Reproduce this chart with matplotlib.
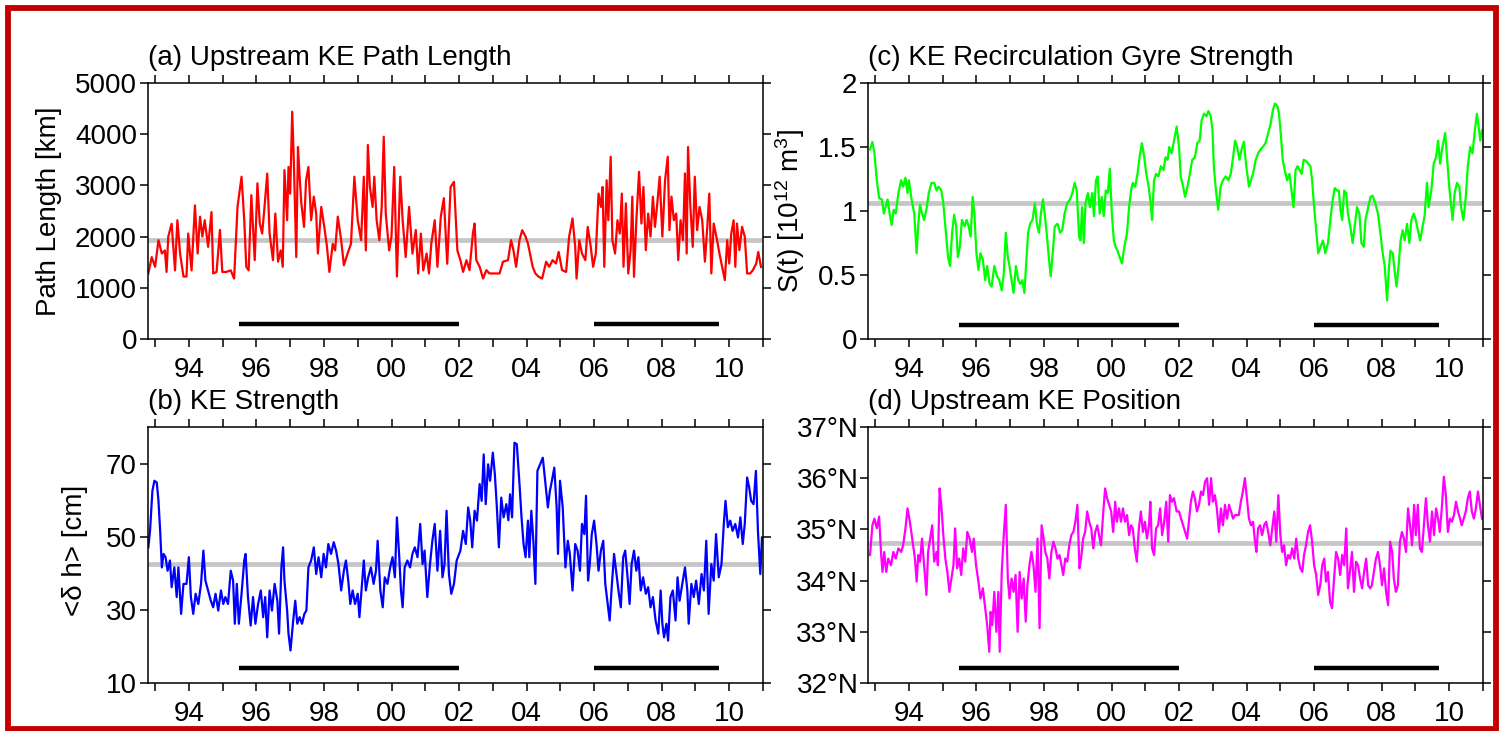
import matplotlib
matplotlib.use("Agg")
import matplotlib.pyplot as plt
from matplotlib.patches import Rectangle

plt.rcParams['font.family'] = ['Liberation Sans', 'DejaVu Sans']
plt.rcParams['mathtext.fontset'] = 'custom'
plt.rcParams['mathtext.rm'] = 'Liberation Sans'
plt.rcParams['mathtext.it'] = 'Liberation Sans:italic'

# ---- (a) upstream KE path length [km] ----
path_year = [
    1992.80, 1992.90, 1993.00, 1993.10, 1993.20, 1993.29, 1993.34, 1993.39, 1993.49, 1993.59,
    1993.66, 1993.74, 1993.84, 1993.93, 1993.98, 1994.08, 1994.18, 1994.26, 1994.33, 1994.40,
    1994.47, 1994.57, 1994.67, 1994.72, 1994.82, 1994.92, 1994.99, 1995.11, 1995.24, 1995.34,
    1995.44, 1995.56, 1995.64, 1995.70, 1995.77, 1995.85, 1995.95, 1996.03, 1996.10, 1996.17,
    1996.24, 1996.32, 1996.39, 1996.49, 1996.56, 1996.64, 1996.72, 1996.78, 1996.83, 1996.91,
    1996.95, 1997.00, 1997.06, 1997.11, 1997.18, 1997.23, 1997.28, 1997.33, 1997.41, 1997.47,
    1997.54, 1997.62, 1997.70, 1997.77, 1997.82, 1997.92, 1998.01, 1998.09, 1998.16, 1998.26,
    1998.33, 1998.41, 1998.51, 1998.59, 1998.70, 1998.80, 1998.90, 1999.00, 1999.10, 1999.18,
    1999.24, 1999.30, 1999.36, 1999.44, 1999.49, 1999.56, 1999.64, 1999.71, 1999.77, 1999.83,
    1999.93, 2000.00, 2000.08, 2000.16, 2000.26, 2000.33, 2000.42, 2000.52, 2000.62, 2000.72,
    2000.79, 2000.87, 2000.94, 2001.04, 2001.11, 2001.18, 2001.28, 2001.36, 2001.46, 2001.55,
    2001.65, 2001.75, 2001.85, 2001.95,
    2002.04, 2002.12, 2002.22, 2002.31, 2002.41, 2002.46, 2002.51, 2002.61, 2002.71, 2002.81,
    2002.90, 2003.05, 2003.20, 2003.30, 2003.45, 2003.54, 2003.61, 2003.69, 2003.79, 2003.87,
    2003.97, 2004.04, 2004.10, 2004.18, 2004.26, 2004.36, 2004.46, 2004.58, 2004.67, 2004.77,
    2004.87, 2004.95, 2005.05, 2005.17, 2005.26, 2005.36, 2005.44, 2005.48, 2005.56, 2005.64,
    2005.74, 2005.81, 2005.90, 2005.97, 2006.05, 2006.13, 2006.20, 2006.25, 2006.30, 2006.37,
    2006.42, 2006.49, 2006.54, 2006.62, 2006.69, 2006.76, 2006.82, 2006.87, 2006.94, 2007.01,
    2007.08, 2007.13, 2007.18, 2007.25, 2007.33, 2007.40, 2007.46, 2007.53, 2007.60, 2007.67,
    2007.74, 2007.80, 2007.87, 2007.94, 2008.02, 2008.10, 2008.18, 2008.23, 2008.29, 2008.36,
    2008.43, 2008.49, 2008.56, 2008.63, 2008.69, 2008.74, 2008.78, 2008.85, 2008.92, 2008.98,
    2009.05, 2009.12, 2009.20, 2009.28, 2009.35, 2009.41, 2009.47, 2009.54, 2009.64, 2009.71,
    2009.79, 2009.87, 2009.94, 2010.00, 2010.06, 2010.13, 2010.18, 2010.23, 2010.30, 2010.38,
    2010.46, 2010.53, 2010.62, 2010.70, 2010.80, 2010.86, 2010.94]
path_km = [
    1280, 1600, 1410, 1930, 1670, 1730, 1310, 2000, 2250, 1340,
    2320, 1670, 1220, 1220, 2060, 1340, 2610, 1670, 2390, 2000,
    2320, 1800, 2480, 1280, 1310, 2130, 1310, 1310, 1340, 1180,
    2580, 3170, 2320, 1410, 1340, 2810, 1540, 3040, 2260, 2060,
    2580, 3230, 2060, 1540, 2450, 1510, 1730, 1410, 3300, 2320,
    3360, 2840, 4440, 3430, 1600, 3750, 3170, 2650, 2190, 3100,
    3360, 2320, 2780, 2450, 1670, 2580, 2190, 1800, 1310, 1860,
    1730, 2390, 1930, 1440, 1670, 1860, 3170, 2320, 1930, 3170,
    1730, 3790, 2970, 2580, 3170, 2320, 1930, 2580, 3950, 2450,
    1730, 2000, 3360, 1220, 3170, 2320, 1600, 2580, 1670, 2130,
    1280, 2060, 1340, 1670, 1280, 1870, 2320, 1410, 2390, 2750,
    1470, 2970, 3070, 1730,
    1540, 1310, 1540, 1345, 2060, 2255, 1540, 1410, 1180, 1345,
    1280, 1280, 1280, 1510, 1540, 1930, 1735, 1410, 1930, 2125,
    2000, 1865, 1670, 1410, 1280, 1215, 1180, 1510, 1410, 1540,
    1475, 1700, 1345, 1310, 2000, 2355, 1800, 1180, 1930, 1670,
    1540, 2190, 1800, 1410, 1670, 2840, 2580, 2970, 1410, 3100,
    2320, 3560, 1930, 1670, 2320, 2060, 2840, 1410, 2650, 1280,
    1735, 2780, 1215, 2320, 3265, 2255, 2970, 1735, 2450, 2000,
    2780, 2190, 2650, 3170, 2000, 3100, 3560, 2125, 2780, 2320,
    2450, 1540, 2320, 1930, 3235, 1670, 3750, 2580, 1800, 3170,
    2125, 2580, 2320, 1510, 2190, 2840, 1280, 2255, 1930, 1670,
    1410, 1150, 1930, 1475, 2060, 2320, 1410, 2255, 1735, 2190,
    2000, 1280, 1280, 1345, 1475, 1700, 1410]

# ---- (b) KE strength <dh> [cm] ----
dh_year = [
    1992.80, 1992.85, 1992.92, 1992.98, 1993.05, 1993.10, 1993.15, 1993.20, 1993.25, 1993.31,
    1993.37, 1993.44, 1993.49, 1993.57, 1993.64, 1993.69, 1993.77, 1993.84, 1993.93, 1994.00,
    1994.06, 1994.13, 1994.20, 1994.28, 1994.36, 1994.43, 1994.49, 1994.57, 1994.65, 1994.72,
    1994.79, 1994.87, 1994.95, 1995.02, 1995.08, 1995.16, 1995.24, 1995.31, 1995.36, 1995.42,
    1995.48, 1995.56, 1995.64, 1995.68, 1995.75, 1995.83, 1995.90, 1995.97, 1996.05, 1996.13,
    1996.20, 1996.26, 1996.32, 1996.39, 1996.46, 1996.54, 1996.62, 1996.67, 1996.74, 1996.79,
    1996.83, 1996.91, 1996.95, 1997.01, 1997.08, 1997.15, 1997.21, 1997.28, 1997.35, 1997.42,
    1997.48, 1997.54, 1997.62, 1997.70, 1997.77, 1997.84, 1997.92, 1997.99, 1998.06, 1998.13,
    1998.21, 1998.29, 1998.36, 1998.43, 1998.51, 1998.59, 1998.65, 1998.72, 1998.78, 1998.85,
    1998.92, 1999.00, 1999.05, 1999.12, 1999.18, 1999.24, 1999.31, 1999.39, 1999.47, 1999.54,
    1999.59, 1999.67, 1999.74, 1999.80, 1999.88, 1999.96, 2000.03, 2000.10, 2000.16, 2000.23,
    2000.28, 2000.33, 2000.39, 2000.47, 2000.55, 2000.62, 2000.69, 2000.77, 2000.85, 2000.92,
    2000.98, 2001.06, 2001.14, 2001.21, 2001.28, 2001.36, 2001.44, 2001.51, 2001.57, 2001.63,
    2001.70, 2001.77, 2001.85, 2001.93,
    2002.04, 2002.12, 2002.20, 2002.27, 2002.33, 2002.39, 2002.46, 2002.53, 2002.61, 2002.67,
    2002.73, 2002.79, 2002.86, 2002.92, 2003.00, 2003.06, 2003.12, 2003.18, 2003.25, 2003.32,
    2003.40, 2003.46, 2003.51, 2003.57, 2003.64, 2003.71, 2003.79, 2003.85, 2003.91, 2003.97,
    2004.04, 2004.08, 2004.14, 2004.20, 2004.26, 2004.32, 2004.40, 2004.48, 2004.55, 2004.63,
    2004.69, 2004.75, 2004.82, 2004.89, 2004.93, 2004.99, 2005.07, 2005.15, 2005.22, 2005.28,
    2005.36, 2005.44, 2005.51, 2005.58, 2005.64, 2005.71, 2005.76, 2005.82, 2005.87, 2005.93,
    2006.00, 2006.07, 2006.13, 2006.20, 2006.27, 2006.33, 2006.40, 2006.46, 2006.52, 2006.59,
    2006.66, 2006.72, 2006.79, 2006.86, 2006.92, 2006.99, 2007.05, 2007.11, 2007.18, 2007.25,
    2007.31, 2007.38, 2007.45, 2007.53, 2007.60, 2007.67, 2007.74, 2007.82, 2007.90, 2007.97,
    2008.02, 2008.07, 2008.14, 2008.19, 2008.26, 2008.33, 2008.41, 2008.47, 2008.53, 2008.61,
    2008.69, 2008.76, 2008.80, 2008.88, 2008.95, 2009.02, 2009.10, 2009.18, 2009.25, 2009.32,
    2009.39, 2009.47, 2009.54, 2009.61, 2009.69, 2009.77, 2009.84, 2009.89, 2009.96, 2010.03,
    2010.10, 2010.18, 2010.26, 2010.33, 2010.40, 2010.46, 2010.53, 2010.59, 2010.65, 2010.72,
    2010.79, 2010.85, 2010.92, 2010.97]
dh_cm = [
    47.1, 51.6, 62.5, 65.3, 64.8, 59.8, 51.6, 41.6, 45.3, 44.4,
    40.7, 43.5, 36.2, 41.6, 33.5, 41.6, 28.9, 37.1, 37.1, 44.4,
    33.5, 28.9, 34.4, 31.6, 37.1, 46.2, 38.0, 35.3, 32.5, 30.7,
    34.4, 29.8, 35.3, 31.6, 33.5, 31.6, 40.7, 38.0, 26.2, 37.1,
    26.2, 34.4, 43.5, 45.3, 33.5, 25.7, 33.5, 26.2, 31.6, 35.3,
    28.0, 33.5, 22.5, 35.3, 29.8, 37.1, 32.5, 23.5, 41.6, 47.1,
    38.0, 29.8, 23.5, 18.9, 26.2, 32.5, 26.2, 28.0, 26.2, 28.9,
    29.8, 41.6, 43.5, 47.1, 39.8, 44.4, 38.9, 45.3, 41.6, 48.0,
    45.3, 48.5, 46.2, 42.5, 35.3, 40.7, 43.5, 38.0, 31.6, 35.3,
    31.6, 34.4, 28.0, 36.2, 43.5, 35.3, 38.9, 41.6, 37.1, 40.7,
    48.9, 35.3, 30.7, 38.9, 37.1, 41.6, 44.4, 38.9, 55.3, 44.4,
    35.3, 30.7, 41.6, 43.5, 41.6, 45.3, 47.1, 44.4, 53.5, 42.5,
    46.2, 33.5, 42.5, 48.9, 53.5, 40.7, 51.6, 38.9, 42.5, 57.1,
    39.8, 34.4, 37.1, 43.5,
    46.2, 51.6, 48.0, 58.0, 54.5, 47.1, 57.1, 54.4, 64.4, 59.8,
    72.5, 58.9, 69.8, 65.3, 73.0, 67.1, 58.0, 47.1, 60.7, 55.3,
    58.9, 54.5, 61.6, 55.3, 75.7, 75.3, 64.4, 55.3, 48.0, 44.4,
    54.4, 44.4, 57.1, 48.9, 37.1, 68.0, 69.8, 71.6, 65.3, 58.0,
    62.5, 65.3, 68.9, 58.0, 45.3, 65.3, 58.0, 41.6, 48.9, 45.3,
    35.3, 48.0, 46.2, 40.7, 53.5, 50.7, 61.2, 38.0, 42.5, 50.7,
    54.4, 48.0, 40.7, 46.2, 48.9, 37.1, 31.6, 27.1, 36.2, 45.3,
    39.8, 35.3, 30.7, 44.4, 46.2, 38.9, 31.6, 42.5, 46.2, 40.7,
    44.4, 35.3, 38.9, 34.4, 36.2, 30.7, 33.5, 27.1, 23.5, 35.3,
    26.2, 22.5, 26.2, 21.6, 33.5, 35.3, 27.1, 38.9, 32.5, 37.1,
    41.6, 35.3, 26.2, 37.1, 33.5, 38.0, 31.6, 39.8, 35.3, 48.9,
    28.9, 42.5, 38.0, 50.7, 38.9, 42.5, 53.5, 59.8, 52.6, 54.4,
    51.6, 53.5, 49.8, 55.3, 48.0, 53.5, 66.2, 63.5, 59.8, 58.9,
    68.0, 51.6, 39.8, 49.8]

# ---- (c) recirculation gyre strength S(t) [10^12 m^3] ----
gyre_year = [
    1992.85, 1992.92, 1992.98, 1993.05, 1993.12, 1993.20, 1993.26, 1993.31, 1993.37, 1993.43,
    1993.49, 1993.55, 1993.61, 1993.69, 1993.77, 1993.83, 1993.90, 1993.96, 1994.00, 1994.08,
    1994.16, 1994.23, 1994.28, 1994.33, 1994.39, 1994.45, 1994.52, 1994.59, 1994.67, 1994.75,
    1994.82, 1994.88, 1994.96, 1995.02, 1995.08, 1995.16, 1995.22, 1995.28, 1995.34, 1995.40,
    1995.45, 1995.51, 1995.57, 1995.65, 1995.71, 1995.77, 1995.83, 1995.89, 1995.94, 1996.00,
    1996.06, 1996.12, 1996.19, 1996.26, 1996.32, 1996.39, 1996.45, 1996.53, 1996.61, 1996.68,
    1996.75, 1996.81, 1996.87, 1996.93, 1996.98, 1997.04, 1997.10, 1997.17, 1997.24, 1997.30,
    1997.36, 1997.42, 1997.47, 1997.53, 1997.59, 1997.66, 1997.73, 1997.79, 1997.85, 1997.91,
    1997.97, 1998.02, 1998.08, 1998.15, 1998.20, 1998.26, 1998.32, 1998.40, 1998.48, 1998.54,
    1998.61, 1998.69, 1998.77, 1998.84, 1998.91, 1998.97, 1999.04, 1999.08, 1999.13, 1999.18,
    1999.23, 1999.30, 1999.36, 1999.43, 1999.48, 1999.54, 1999.59, 1999.65, 1999.71, 1999.77,
    1999.83, 1999.89, 1999.95, 2000.01, 2000.07, 2000.12, 2000.18, 2000.24, 2000.31, 2000.38,
    2000.46, 2000.52, 2000.58, 2000.63, 2000.70, 2000.77, 2000.83, 2000.90, 2000.97, 2001.03,
    2001.10, 2001.16, 2001.20, 2001.26, 2001.32, 2001.39, 2001.46, 2001.54, 2001.60, 2001.66,
    2001.71, 2001.78, 2001.85, 2001.93,
    2002.00, 2002.05, 2002.12, 2002.18, 2002.25, 2002.32, 2002.39, 2002.47, 2002.54, 2002.61,
    2002.67, 2002.74, 2002.81, 2002.87, 2002.94, 2002.99, 2003.03, 2003.10, 2003.16, 2003.23,
    2003.30, 2003.38, 2003.46, 2003.53, 2003.60, 2003.66, 2003.72, 2003.79, 2003.85, 2003.92,
    2003.99, 2004.07, 2004.13, 2004.19, 2004.27, 2004.34, 2004.41, 2004.48, 2004.56, 2004.64,
    2004.71, 2004.78, 2004.84, 2004.91, 2004.96, 2005.01, 2005.07, 2005.13, 2005.20, 2005.27,
    2005.33, 2005.39, 2005.45, 2005.51, 2005.57, 2005.63, 2005.69, 2005.76, 2005.82, 2005.89,
    2005.94, 2006.00, 2006.06, 2006.12, 2006.19, 2006.26, 2006.33, 2006.41, 2006.48, 2006.55,
    2006.61, 2006.68, 2006.73, 2006.78, 2006.83, 2006.89, 2006.95, 2007.00, 2007.07, 2007.14,
    2007.20, 2007.27, 2007.34, 2007.40, 2007.47, 2007.52, 2007.60, 2007.67, 2007.73, 2007.81,
    2007.89, 2007.96, 2008.03, 2008.09, 2008.16, 2008.21, 2008.26, 2008.33, 2008.38, 2008.44,
    2008.50, 2008.56, 2008.62, 2008.68, 2008.75, 2008.82, 2008.88, 2008.95, 2009.01, 2009.07,
    2009.14, 2009.21, 2009.27, 2009.34, 2009.39, 2009.47, 2009.54, 2009.61, 2009.67, 2009.73,
    2009.80, 2009.88, 2009.94, 2010.00, 2010.06, 2010.10, 2010.16, 2010.23, 2010.30, 2010.35,
    2010.42, 2010.49, 2010.55, 2010.62, 2010.69, 2010.75, 2010.82, 2010.87, 2010.92, 2010.97]
gyre_s = [
    1.48, 1.54, 1.45, 1.24, 1.10, 1.09, 0.98, 1.03, 1.09, 0.98,
    0.89, 1.01, 0.98, 1.14, 1.24, 1.19, 1.26, 1.14, 1.24, 1.09,
    0.98, 0.67, 0.90, 1.05, 0.98, 0.93, 1.01, 1.14, 1.22, 1.22,
    1.16, 1.19, 1.16, 1.06, 0.88, 0.64, 0.57, 0.83, 0.97, 0.88,
    0.64, 0.72, 0.93, 0.88, 0.93, 0.88, 0.80, 1.11, 0.98, 0.67,
    0.54, 0.67, 0.62, 0.46, 0.57, 0.43, 0.41, 0.57, 0.49, 0.46,
    0.38, 0.51, 0.83, 0.64, 0.57, 0.46, 0.36, 0.57, 0.46, 0.43,
    0.46, 0.36, 0.57, 0.83, 0.90, 0.93, 1.06, 0.90, 0.83, 0.98,
    1.09, 0.98, 0.83, 0.62, 0.49, 0.67, 0.88, 0.90, 0.83, 0.85,
    0.98, 1.06, 1.09, 1.14, 1.22, 1.16, 0.80, 0.77, 1.03, 0.75,
    1.06, 1.14, 1.03, 1.14, 0.96, 1.24, 1.27, 0.98, 1.11, 0.96,
    1.16, 1.14, 1.33, 0.98, 0.77, 0.72, 0.69, 0.64, 0.59, 0.72,
    0.83, 1.03, 1.16, 1.22, 1.19, 1.29, 1.42, 1.53, 1.42, 1.29,
    1.19, 1.06, 0.93, 1.24, 1.29, 1.27, 1.35, 1.32, 1.42, 1.40,
    1.50, 1.45, 1.55, 1.66,
    1.50, 1.27, 1.19, 1.11, 1.19, 1.29, 1.40, 1.42, 1.53, 1.55,
    1.71, 1.76, 1.74, 1.78, 1.74, 1.63, 1.35, 1.14, 1.01, 1.19,
    1.24, 1.27, 1.24, 1.29, 1.42, 1.55, 1.50, 1.40, 1.48, 1.54,
    1.35, 1.19, 1.24, 1.29, 1.40, 1.45, 1.48, 1.50, 1.53, 1.61,
    1.68, 1.79, 1.84, 1.82, 1.76, 1.61, 1.40, 1.32, 1.24, 1.29,
    1.16, 1.03, 1.32, 1.35, 1.32, 1.29, 1.40, 1.39, 1.37, 1.35,
    1.24, 1.03, 0.85, 0.67, 0.72, 0.77, 0.67, 0.75, 0.93, 1.09,
    1.18, 1.16, 1.16, 1.01, 0.93, 1.16, 1.14, 0.98, 0.88, 0.75,
    0.88, 1.03, 0.98, 0.75, 0.72, 0.93, 1.03, 1.11, 1.12, 1.06,
    0.98, 0.83, 0.67, 0.57, 0.30, 0.54, 0.69, 0.67, 0.54, 0.41,
    0.57, 0.77, 0.85, 0.77, 0.90, 0.75, 0.93, 0.98, 0.93, 0.85,
    0.77, 0.88, 0.96, 1.22, 1.03, 1.16, 1.37, 1.42, 1.55, 1.37,
    1.50, 1.61, 1.40, 1.19, 1.03, 0.93, 1.14, 1.22, 1.19, 1.03,
    0.93, 1.11, 1.35, 1.50, 1.45, 1.61, 1.76, 1.66, 1.55, 1.63]

# ---- (d) upstream KE latitude [deg N] ----
lat_year = [
    1992.85, 1992.92, 1992.98, 1993.05, 1993.12, 1993.18, 1993.22, 1993.27, 1993.33, 1993.39,
    1993.47, 1993.54, 1993.61, 1993.69, 1993.77, 1993.83, 1993.90, 1993.96, 1994.03, 1994.10,
    1994.18, 1994.23, 1994.28, 1994.33, 1994.39, 1994.45, 1994.52, 1994.57, 1994.63, 1994.69,
    1994.75, 1994.82, 1994.86, 1994.91, 1994.96, 1995.02, 1995.08, 1995.14, 1995.20, 1995.26,
    1995.32, 1995.37, 1995.43, 1995.49, 1995.55, 1995.61, 1995.67, 1995.73, 1995.80, 1995.87,
    1995.92, 1995.99, 1996.06, 1996.12, 1996.19, 1996.26, 1996.32, 1996.38, 1996.42, 1996.47,
    1996.53, 1996.59, 1996.65, 1996.69, 1996.75, 1996.81, 1996.87, 1996.93, 1996.98, 1997.04,
    1997.10, 1997.16, 1997.22, 1997.28, 1997.34, 1997.40, 1997.46, 1997.51, 1997.57, 1997.63,
    1997.69, 1997.75, 1997.81, 1997.87, 1997.93, 1997.99, 1998.04, 1998.10, 1998.16, 1998.22,
    1998.28, 1998.34, 1998.40, 1998.46, 1998.52, 1998.57, 1998.63, 1998.69, 1998.75, 1998.81,
    1998.87, 1998.93, 1998.99, 1999.05, 1999.10, 1999.16, 1999.22, 1999.28, 1999.34, 1999.40,
    1999.46, 1999.52, 1999.58, 1999.63, 1999.69, 1999.75, 1999.81, 1999.87, 1999.93, 1999.99,
    2000.05, 2000.11, 2000.16, 2000.22, 2000.28, 2000.34, 2000.40, 2000.46, 2000.52, 2000.58,
    2000.63, 2000.69, 2000.75, 2000.81, 2000.87, 2000.93, 2000.99, 2001.05, 2001.11, 2001.15,
    2001.20, 2001.26, 2001.32, 2001.38, 2001.44, 2001.50, 2001.56, 2001.62, 2001.68, 2001.73,
    2001.79, 2001.85, 2001.93,
    2002.00, 2002.06, 2002.12, 2002.18, 2002.24, 2002.30, 2002.35, 2002.41, 2002.47, 2002.53,
    2002.59, 2002.65, 2002.71, 2002.77, 2002.83, 2002.89, 2002.95, 2003.00, 2003.06, 2003.12,
    2003.18, 2003.24, 2003.30, 2003.36, 2003.42, 2003.48, 2003.54, 2003.60, 2003.66, 2003.71,
    2003.77, 2003.83, 2003.89, 2003.95, 2004.01, 2004.07, 2004.13, 2004.19, 2004.25, 2004.29,
    2004.34, 2004.40, 2004.46, 2004.52, 2004.58, 2004.64, 2004.70, 2004.76, 2004.82, 2004.88,
    2004.94, 2005.00, 2005.05, 2005.11, 2005.17, 2005.23, 2005.29, 2005.35, 2005.41, 2005.47,
    2005.53, 2005.59, 2005.65, 2005.70, 2005.76, 2005.82, 2005.88, 2005.94, 2006.00, 2006.06,
    2006.12, 2006.18, 2006.24, 2006.30, 2006.35, 2006.41, 2006.47, 2006.53, 2006.59, 2006.65,
    2006.71, 2006.77, 2006.83, 2006.89, 2006.95, 2007.00, 2007.06, 2007.12, 2007.18, 2007.24,
    2007.30, 2007.36, 2007.42, 2007.48, 2007.54, 2007.60, 2007.66, 2007.71, 2007.77, 2007.83,
    2007.89, 2007.95, 2008.01, 2008.07, 2008.13, 2008.19, 2008.25, 2008.31, 2008.36, 2008.42,
    2008.48, 2008.54, 2008.60, 2008.66, 2008.72, 2008.78, 2008.84, 2008.90, 2008.96, 2009.01,
    2009.07, 2009.13, 2009.19, 2009.25, 2009.31, 2009.37, 2009.43, 2009.49, 2009.55, 2009.61,
    2009.67, 2009.72, 2009.78, 2009.84, 2009.90, 2009.96, 2010.02, 2010.08, 2010.14, 2010.20,
    2010.26, 2010.32, 2010.37, 2010.43, 2010.49, 2010.55, 2010.61, 2010.67, 2010.73, 2010.79,
    2010.85, 2010.91, 2010.97]
lat_n = [
    34.50, 35.08, 35.21, 35.02, 35.25, 34.50, 34.17, 34.56, 34.17, 34.43,
    34.30, 34.56, 34.43, 34.63, 34.56, 34.69, 35.02, 35.41, 35.15, 34.82,
    34.43, 33.98, 34.50, 34.37, 34.82, 34.30, 33.72, 34.56, 34.82, 35.08,
    34.37, 34.56, 34.30, 35.80, 35.48, 34.89, 34.43, 34.17, 33.78, 34.04,
    34.30, 35.02, 34.24, 34.43, 34.11, 34.63, 34.37, 34.95, 34.82, 34.56,
    34.82, 34.30, 33.98, 33.65, 33.85, 33.46, 33.13, 32.61, 33.39, 33.13,
    33.78, 33.00, 33.78, 32.61, 34.17, 34.89, 35.48, 34.04, 33.65, 34.04,
    33.78, 34.11, 33.00, 34.17, 33.65, 34.04, 33.20, 33.91, 34.30, 34.56,
    34.30, 33.78, 34.82, 33.07, 35.08, 34.82, 34.56, 34.43, 34.04, 34.56,
    34.76, 34.63, 34.43, 34.50, 34.30, 34.11, 34.43, 34.37, 34.69, 34.89,
    34.95, 35.15, 35.48, 34.24, 34.43, 34.82, 34.95, 35.35, 35.15, 35.02,
    34.63, 34.95, 35.08, 34.89, 34.69, 35.28, 35.80, 35.61, 35.48, 35.35,
    34.95, 35.54, 35.15, 35.41, 35.15, 35.41, 35.15, 35.28, 34.89, 35.08,
    35.02, 34.63, 34.37, 35.02, 35.35, 34.95, 35.15, 34.82, 35.08, 35.54,
    34.63, 34.50, 35.02, 35.08, 35.41, 34.89, 35.15, 35.54, 34.76, 35.67,
    35.54, 35.61, 35.35,
    35.35, 35.21, 35.08, 34.95, 34.82, 35.21, 35.54, 35.74, 35.61, 35.35,
    35.48, 35.74, 35.67, 35.93, 36.00, 35.48, 36.00, 35.54, 35.67, 35.41,
    34.95, 35.41, 35.08, 35.48, 35.21, 35.48, 35.35, 35.21, 35.28, 35.28,
    35.28, 35.54, 35.74, 36.00, 35.61, 35.21, 35.08, 35.15, 34.76, 34.56,
    35.02, 35.08, 34.89, 35.08, 35.15, 34.95, 34.69, 35.02, 35.35, 34.76,
    35.67, 34.89, 34.56, 34.69, 34.30, 34.50, 34.43, 34.63, 34.43, 34.82,
    34.43, 34.24, 34.17, 34.50, 34.69, 34.95, 35.08, 34.76, 34.30, 34.11,
    33.72, 33.91, 34.30, 34.43, 33.98, 34.17, 33.59, 33.46, 34.04, 34.56,
    34.43, 34.11, 34.50, 34.30, 35.02, 33.85, 34.17, 34.56, 33.78, 34.37,
    34.30, 34.04, 33.85, 34.17, 34.43, 33.91, 33.85, 33.91, 34.17, 34.43,
    34.56, 34.30, 33.91, 34.24, 33.78, 33.52, 34.76, 34.56, 34.04, 33.78,
    33.91, 34.76, 34.95, 34.82, 34.56, 35.41, 35.08, 34.69, 35.48, 34.89,
    35.48, 34.63, 34.56, 35.08, 35.61, 35.08, 34.76, 35.35, 34.89, 35.41,
    35.21, 34.95, 35.41, 36.03, 35.67, 34.95, 35.21, 35.15, 35.28, 35.54,
    35.35, 35.21, 35.08, 35.21, 35.35, 35.61, 35.74, 35.35, 35.21, 35.41,
    35.74, 35.48, 35.21]

# unstable periods (black bars) and long-term means (grey lines)
unstable = [(1995.48, 2002.0), (2006.0, 2009.71)]
means = {'a': 1940, 'b': 42.5, 'c': 1.065, 'd': 34.74}

tick_years = list(range(1993, 2012))
tick_names = ['%02d' % (y % 100) if y % 2 == 0 else '' for y in tick_years]

FS = 20
W, H = 1499, 731
fig = plt.figure(figsize=(W / 100, H / 100), dpi=100)


def px_axes(left, top, right, bottom):
    return fig.add_axes([left / W, 1 - bottom / H, (right - left) / W, (bottom - top) / H])


def panel(ax, t, v, color, mean, bar_y, ylim, yticks, ylabels, title, ypad):
    ax.axhline(mean, color='#c6c6c6', lw=3.4, zorder=1)
    ax.plot(t, v, color=color, lw=1.6, zorder=2)
    for s, e in unstable:
        ax.plot([s, e], [bar_y, bar_y], color='k', lw=3.2, solid_capstyle='butt', zorder=3)
    ax.set_xlim(1992.79, 2011.0)
    ax.set_ylim(*ylim)
    ax.set_xticks(tick_years)
    ax.set_xticklabels(tick_names)
    ax.set_yticks(yticks)
    ax.set_yticklabels(ylabels)
    ax.tick_params(axis='both', direction='out', top=True, right=True,
                   length=6, width=1.1, labelsize=FS, colors='black')
    ax.tick_params(axis='x', pad=7)
    ax.tick_params(axis='y', pad=ypad)
    for sp in ax.spines.values():
        sp.set_linewidth(1.1)
    ax.text(0.0, 1.07, title, transform=ax.transAxes, ha='left', va='baseline', fontsize=FS)


ax_a = px_axes(148, 83, 763, 339)
ax_b = px_axes(148, 427, 763, 683)
ax_c = px_axes(868, 83, 1483, 339)
ax_d = px_axes(868, 427, 1483, 683)

panel(ax_a, path_year, path_km, '#ff0000', means['a'], 300, (0, 5000),
      range(0, 5001, 1000), [str(v) for v in range(0, 5001, 1000)],
      '(a) Upstream KE Path Length', 2)
ax_a.set_ylabel('Path Length [km]', fontsize=FS)
ax_a.yaxis.set_label_coords(-0.14, 0.5)

panel(ax_b, dh_year, dh_cm, '#0000ff', means['b'], 14, (10, 80),
      [10, 30, 50, 70], ['10', '30', '50', '70'], '(b) KE Strength', 2)
ax_b.set_ylabel('<δ h> [cm]', fontsize=FS)
ax_b.yaxis.set_label_coords(-0.097, 0.52)

panel(ax_c, gyre_year, gyre_s, '#00ff00', means['c'], 0.11, (0, 2),
      [0, 0.5, 1, 1.5, 2], ['0', '0.5', '1', '1.5', '2'],
      '(c) KE Recirculation Gyre Strength', 2)
ax_c.set_ylabel(r'S(t) [10$^{12}$ m$^3$]', fontsize=FS)
ax_c.yaxis.set_label_coords(-0.099, 0.5)

panel(ax_d, lat_year, lat_n, '#ff00ff', means['d'], 32.3, (32, 37),
      range(32, 38), ['%d°N' % v for v in range(32, 38)],
      '(d) Upstream KE Position', 1)

# dark red frame round the whole figure
fig.patches.append(Rectangle((8 / W, 2 / H), 1488 / W, 721 / H, transform=fig.transFigure,
                             fill=False, edgecolor='#c40000', lw=4.2))

fig.savefig('out.png', dpi=100)
